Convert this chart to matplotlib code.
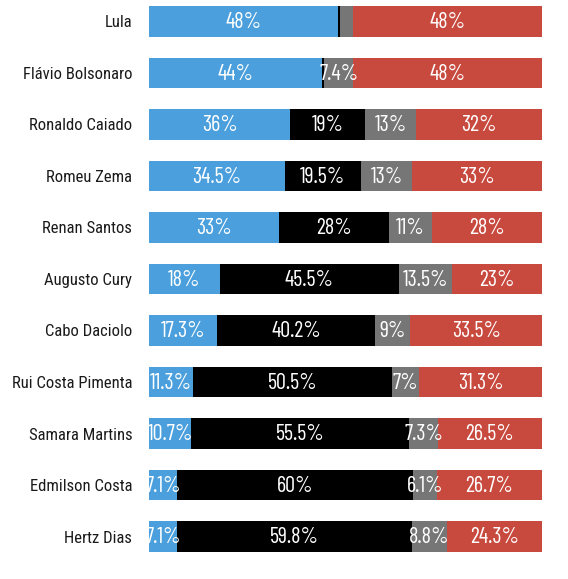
import matplotlib
matplotlib.use("Agg")
import matplotlib.pyplot as plt

names = ["Lula", "Flávio Bolsonaro", "Ronaldo Caiado", "Romeu Zema", "Renan Santos",
         "Augusto Cury", "Cabo Daciolo", "Rui Costa Pimenta", "Samara Martins",
         "Edmilson Costa", "Hertz Dias"]
blue = [48, 44, 36, 34.5, 33, 18, 17.3, 11.3, 10.7, 7.1, 7.1]
black = [0.5, 0.6, 19, 19.5, 28, 45.5, 40.2, 50.5, 55.5, 60, 59.8]
gray = [3.5, 7.4, 13, 13, 11, 13.5, 9, 7, 7.3, 6.1, 8.8]
red = [48, 48, 32, 33, 28, 23, 33.5, 31.3, 26.5, 26.7, 24.3]

labels_blue = ["48%", "44%", "36%", "34.5%", "33%", "18%", "17.3%", "11.3%", "10.7%", "7.1%", "7.1%"]
labels_black = ["", "", "19%", "19.5%", "28%", "45.5%", "40.2%", "50.5%", "55.5%", "60%", "59.8%"]
labels_gray = ["", "7.4%", "13%", "13%", "11%", "13.5%", "9%", "7%", "7.3%", "6.1%", "8.8%"]
labels_red = ["48%", "48%", "32%", "33%", "28%", "23%", "33.5%", "31.3%", "26.5%", "26.7%", "24.3%"]

plt.rcParams['font.family'] = ["Roboto Condensed", "DejaVu Sans"]
VAL_FONT = ["Barlow Condensed", "Roboto Condensed", "DejaVu Sans"]

colors = ["#4a9fdc", "#000000", "#767676", "#c8493e"]
series = [blue, black, gray, red]
labs = [labels_blue, labels_black, labels_gray, labels_red]

fig = plt.figure(figsize=(5.68, 5.79), dpi=100)
ax = fig.add_axes([149/568, 0, (542-149)/568, 1])
ypos = list(range(len(names)))
left = [0]*len(names)
for vals, col, lab in zip(series, colors, labs):
    ax.barh(ypos, vals, left=left, height=0.6, color=col, edgecolor="none")
    for i, (v, l0, t) in enumerate(zip(vals, left, lab)):
        if t:
            ax.text(l0 + v/2, i + 0.02, t, ha="center", va="center", color="white",
                    fontsize=16, family=VAL_FONT)
    left = [a + b for a, b in zip(left, vals)]

ax.set_xlim(0, 100)
ax.set_ylim(10.825, -0.417)
ax.set_yticks(ypos)
ax.set_yticklabels(names, fontsize=12, color="#1a1a1a")
ax.tick_params(axis="y", length=0, pad=12)
ax.set_xticks([])
for s in ax.spines.values():
    s.set_visible(False)
fig.savefig("out.png", dpi=100)
